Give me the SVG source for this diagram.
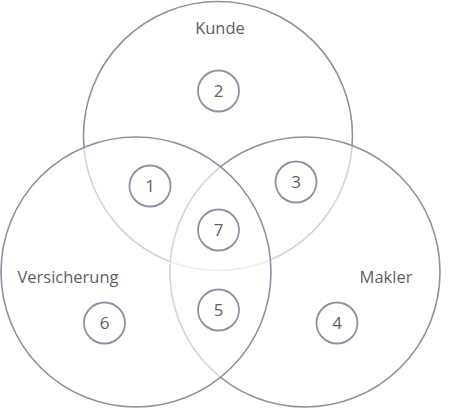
<svg xmlns="http://www.w3.org/2000/svg" width="466" height="409" viewBox="0 0 466 409">
<style>
.big{fill:#fff;fill-opacity:0.6;stroke:#8a93a1;stroke-width:1.6}
.num{fill:none;stroke:#8a93a1;stroke-width:1.8}
text{font-family:"Open Sans","Noto Sans","Liberation Sans",sans-serif;fill:#5f5f5f}
.lbl{font-size:16.5px;text-anchor:middle}
.n{font-size:17px;text-anchor:middle}
</style>
<rect width="466" height="409" fill="#fff"/>
<g id="kunde"><circle class="big" cx="218" cy="136" r="134.5"/><text class="lbl" x="220" y="34">Kunde</text></g>
<g id="makler"><circle class="big" cx="305" cy="272" r="135"/><text class="lbl" x="386" y="283">Makler</text></g>
<g id="versicherung"><circle class="big" cx="136" cy="272" r="135"/><text class="lbl" x="68" y="283">Versicherung</text></g>
<g id="n2"><circle class="num" cx="218.5" cy="91" r="20.5"/><text class="n" x="218.5" y="97">2</text></g>
<g id="n1"><circle class="num" cx="150" cy="186" r="20.5"/><text class="n" x="150" y="192">1</text></g>
<g id="n3"><circle class="num" cx="296" cy="182" r="20.5"/><text class="n" x="296" y="188">3</text></g>
<g id="n7"><circle class="num" cx="218.5" cy="230" r="20.5"/><text class="n" x="218.5" y="236">7</text></g>
<g id="n5"><circle class="num" cx="218.5" cy="310" r="20.5"/><text class="n" x="218.5" y="316">5</text></g>
<g id="n6"><circle class="num" cx="104.5" cy="323" r="20.5"/><text class="n" x="104.5" y="329">6</text></g>
<g id="n4"><circle class="num" cx="337" cy="323" r="20.5"/><text class="n" x="337" y="329">4</text></g>
<g id="connectors"/>
</svg>
